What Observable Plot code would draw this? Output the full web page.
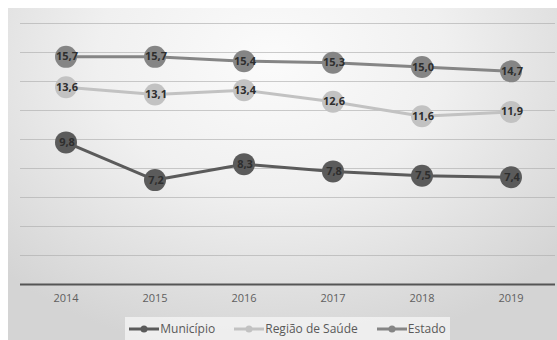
<!DOCTYPE html>
<html>
<head>
<meta charset="utf-8">
<script src="https://cdn.jsdelivr.net/npm/d3@7"></script>
<script src="https://cdn.jsdelivr.net/npm/@observablehq/plot@0.6"></script>
<style>
  html, body { margin: 0; padding: 0; background: #fff; }
  #wrap { position: relative; width: 557px; height: 340px; overflow: hidden; background: #fff; font-family: "Open Sans", Lato, sans-serif; }
  #bg { position: absolute; left: 8px; top: 8px; right: 0; bottom: 0;
        background: radial-gradient(ellipse 70% 90% at 48% 15%, #fbfbfb 0%, #f0f0f0 45%, #d4d4d4 100%); }
  #chart { position: absolute; left: 0; top: 0; }
  #legend { position: absolute; left: 125px; top: 317px; width: 325px; height: 23px;
            background: rgba(245,245,245,0.75); display: flex; align-items: center; justify-content: center;
            gap: 19px; font-size: 12px; color: #595959; }
  #legend .item { display: flex; align-items: center; }
  #legend svg { margin-right: 1px; }
</style>
</head>
<body>
<div id="wrap">
  <div id="bg"></div>
  <div id="chart"></div>
  <div id="legend"></div>
</div>
<script>
const years = ["2014", "2015", "2016", "2017", "2018", "2019"];
const municipio = [9.8, 7.2, 8.3, 7.8, 7.5, 7.4];
const regiao = [13.6, 13.1, 13.4, 12.6, 11.6, 11.9];
const estado = [15.7, 15.7, 15.4, 15.3, 15.0, 14.7];
const seriesNames = ["Município", "Região de Saúde", "Estado"];
const seriesColors = ["#5b5b5b", "#c2c2c2", "#858585"];
const gridTicks = [2, 4, 6, 8, 10, 12, 14, 16, 18];

const seriesValues = [municipio, regiao, estado];
const data = [];
seriesNames.forEach((s, i) => years.forEach((y, j) => data.push({serie: s, year: y, value: seriesValues[i][j]})));
const drawOrder = ["Estado", "Região de Saúde", "Município"];
const colorScale = {domain: seriesNames, range: seriesColors};
const fmt = v => v.toFixed(1).replace(".", ",");

const marks = [
  Plot.ruleY(gridTicks, {stroke: "#aaaaaa", strokeOpacity: 0.6, strokeWidth: 1}),
  Plot.ruleY([0], {stroke: "#555", strokeWidth: 2})
];
for (const s of drawOrder) {
  const d = data.filter(r => r.serie === s);
  marks.push(Plot.line(d, {x: "year", y: "value", stroke: "serie", strokeWidth: 3}));
  marks.push(Plot.dot(d, {x: "year", y: "value", fill: "serie", r: 11, stroke: "none"}));
  marks.push(Plot.text(d, {x: "year", y: "value", text: d => fmt(d.value), fill: "#2e2e2e", fontWeight: "bold", fontSize: 11, fontFamily: "'Open Sans', sans-serif", dx: 1}));
}

const plot = Plot.plot({
  width: 557,
  height: 315,
  marginLeft: 20,
  marginRight: 2,
  marginTop: 23,
  marginBottom: 31,
  style: {background: "transparent", fontFamily: "'Open Sans', Lato, sans-serif", fontSize: "11px", color: "#595959"},
  x: {type: "band", domain: years, padding: 0, label: null},
  y: {domain: [0, 18], axis: null},
  color: colorScale,
  marks: [
    ...marks,
    Plot.axisX({tickSize: 0, tickPadding: 10, label: null, fontSize: 11, fill: "#5f5f5f"})
  ]
});
document.getElementById("chart").appendChild(plot);

const legend = document.getElementById("legend");
seriesNames.forEach((s, i) => {
  const item = document.createElement("div");
  item.className = "item";
  item.innerHTML = `<svg width="30" height="10"><line x1="0" x2="30" y1="5" y2="5" stroke="${seriesColors[i]}" stroke-width="3"/><circle cx="15" cy="5" r="3.5" fill="${seriesColors[i]}"/></svg><span>${s}</span>`;
  legend.appendChild(item);
});
</script>
</body>
</html>
